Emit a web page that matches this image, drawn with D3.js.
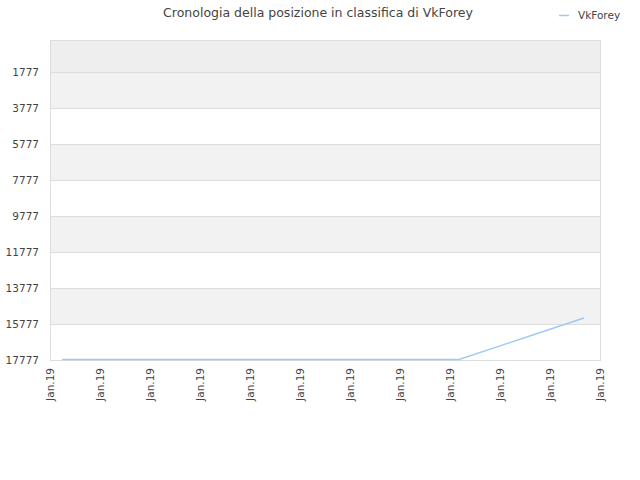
<!DOCTYPE html>
<html>
<head>
<meta charset="utf-8">
<script src="https://cdn.jsdelivr.net/npm/d3@7"></script>
<style>
  body { margin: 0; background: #fff; }
  text { font-family: "DejaVu Sans", sans-serif; fill: #444; }
</style>
</head>
<body>
<script>
// data
var title = "Cronologia della posizione in classifica di VkForey";
var seriesName = "VkForey";
var tickLabels = ["Jan.19", "Jan.19", "Jan.19", "Jan.19", "Jan.19", "Jan.19",
                  "Jan.19", "Jan.19", "Jan.19", "Jan.19", "Jan.19", "Jan.19"];
var yTicks = [1777, 3777, 5777, 7777, 9777, 11777, 13777, 15777, 17777];
var pointTimes = [0.24, 8.18, 9.0, 10.0, 10.68];
var pointRanks = [17777, 17777, 17020, 16100, 15470];

var width = 640, height = 480;
var margin = {top: 40, right: 40, bottom: 120, left: 50};

var svg = d3.select("body").append("svg")
    .attr("width", width)
    .attr("height", height);

var x = d3.scaleLinear()
    .domain([0, tickLabels.length - 1])
    .range([margin.left, width - margin.right]);

var y = d3.scaleLinear()
    .domain([0, 17777])
    .range([margin.top, height - margin.bottom]);

// alternating bands
var bandEdges = [0].concat(yTicks);
var bandFill = function(i) {
    if (i === 0) return "#eeeeee";
    return i % 2 === 1 ? "#f2f2f2" : "#ffffff";
};
svg.append("g")
    .selectAll("rect")
    .data(d3.range(bandEdges.length - 1))
    .join("rect")
    .attr("x", x(0))
    .attr("width", x(tickLabels.length - 1) - x(0))
    .attr("y", i => y(bandEdges[i]))
    .attr("height", i => y(bandEdges[i + 1]) - y(bandEdges[i]))
    .attr("fill", i => bandFill(i));

// grid lines
svg.append("g")
    .selectAll("line")
    .data(yTicks)
    .join("line")
    .attr("x1", x(0))
    .attr("x2", x(tickLabels.length - 1))
    .attr("y1", d => y(d) + 0.5)
    .attr("y2", d => y(d) + 0.5)
    .attr("stroke", "#dddddd");

// border
svg.append("rect")
    .attr("x", x(0) + 0.5)
    .attr("y", y(0) + 0.5)
    .attr("width", x(tickLabels.length - 1) - x(0))
    .attr("height", y(17777) - y(0))
    .attr("fill", "none")
    .attr("stroke", "#dddddd");

// y labels
svg.append("g")
    .selectAll("text")
    .data(yTicks)
    .join("text")
    .attr("x", x(0) - 11)
    .attr("y", d => y(d) + 4)
    .attr("text-anchor", "end")
    .style("font-size", "10.5px")
    .text(d => d);

// x labels
svg.append("g")
    .selectAll("text")
    .data(tickLabels)
    .join("text")
    .attr("transform", (d, i) => "translate(" + (x(i) + 4) + "," + (y(17777) + 8) + ") rotate(-90)")
    .attr("text-anchor", "end")
    .style("font-size", "10.5px")
    .text(d => d);

// line
var pts = pointTimes.map((t, i) => [t, pointRanks[i]]);
svg.append("path")
    .datum(pts)
    .attr("d", d3.line().x(d => x(d[0])).y(d => y(d[1]) - 0.5))
    .attr("fill", "none")
    .attr("stroke", "#9fc9f5")
    .attr("stroke-width", 1.5);

// title
svg.append("text")
    .attr("x", 318)
    .attr("y", 17)
    .attr("text-anchor", "middle")
    .style("font-size", "12.5px")
    .text(title);

// legend
svg.append("line")
    .attr("x1", 559).attr("x2", 569)
    .attr("y1", 15.5).attr("y2", 15.5)
    .attr("stroke", "#9fc9f5")
    .attr("stroke-width", 1.5);
svg.append("text")
    .attr("x", 578)
    .attr("y", 19)
    .style("font-size", "10.5px")
    .text(seriesName);
</script>
</body>
</html>
